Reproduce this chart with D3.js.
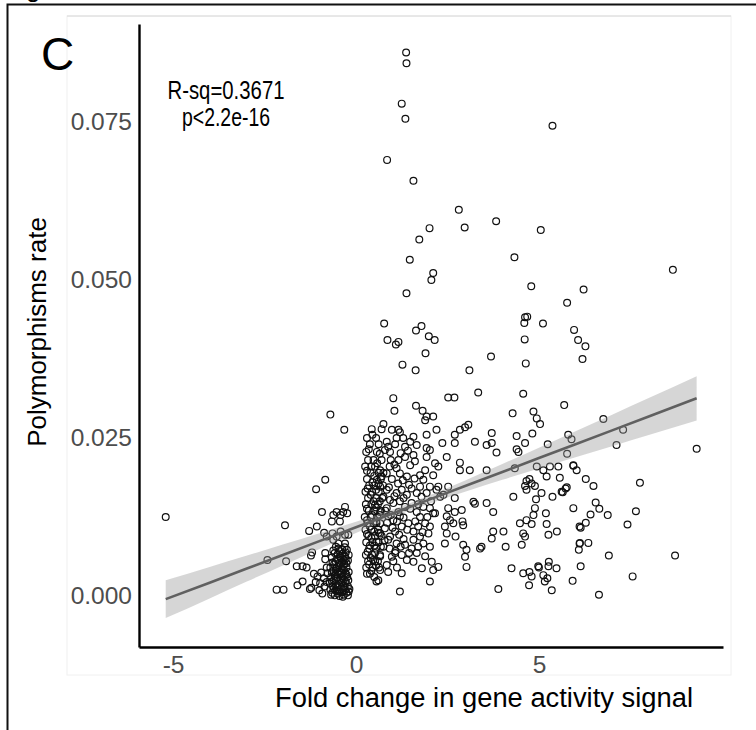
<!DOCTYPE html>
<html><head><meta charset="utf-8">
<script src="https://cdn.jsdelivr.net/npm/d3@7"></script>
<style>
html,body{margin:0;padding:0;background:#fff;}
svg{display:block;font-family:"Liberation Sans",Arial,Helvetica,sans-serif;}
</style></head>
<body>
<svg id="chart" width="756" height="730"></svg>
<script>
// ---- data ----
const xTicks = [-5, 0, 5];
const yTicks = [0, 0.025, 0.05, 0.075];
const xLabel = "Fold change in gene activity signal";
const yLabel = "Polymorphisms rate";
const statLines = ["R-sq=0.3671", "p<2.2e-16"];

// fitted lm line with 95% band (read at several x)
const fitX  = [-5.20, -4, -3, -2, -1, 0, 1, 1.5, 2, 3, 4, 5, 6, 7, 8, 9.31];
const fitY  = [-0.0005, 0.00211, 0.00430, 0.00649, 0.00868, 0.01087, 0.01306, 0.01416, 0.01525, 0.01744, 0.01963, 0.02182, 0.02401, 0.02620, 0.02839, 0.03128];
const fitLo = [-0.0035, -0.00038, 0.00224, 0.00484, 0.00743, 0.00998, 0.01242, 0.01356, 0.01461, 0.01655, 0.01838, 0.02017, 0.02195, 0.02371, 0.02547, 0.02778];
const fitHi = [0.0025, 0.00460, 0.00636, 0.00814, 0.00993, 0.01176, 0.01370, 0.01476, 0.01589, 0.01833, 0.02088, 0.02347, 0.02607, 0.02869, 0.03131, 0.03478];

// points: [fold change, polymorphism rate]
const pointsHigh = [
[1.37,0.0860],[1.38,0.0843],[1.25,0.0779],[1.35,0.0755],[5.37,0.0744],[0.85,0.0690],[1.57,0.0657],[2.81,0.0611],
[2.97,0.0583],[3.83,0.0593],[2.01,0.0582],[5.05,0.0579],[1.73,0.0564],[4.33,0.0536],[1.47,0.0532],[2.11,0.0511],
[2.06,0.0500],[1.38,0.0479],[4.79,0.0490],[6.22,0.0485],[5.77,0.0464],[0.77,0.0431],[0.86,0.0405],[1.09,0.0398],
[1.16,0.0402],[1.64,0.0420],[1.79,0.0427],[1.99,0.0411],[2.15,0.0405],[1.90,0.0384],[1.27,0.0366],[1.63,0.0357],
[3.10,0.0357],[3.69,0.0379],[4.62,0.0441],[4.68,0.0442],[4.60,0.0432],[5.11,0.0431],[4.61,0.0406],[4.64,0.0368],
[5.96,0.0421],[6.07,0.0405],[6.27,0.0395],[6.19,0.0375],[8.66,0.0516]
];
const pointsUpper = [
[1.02,0.0313],[1.05,0.0293],[2.52,0.0314],[2.69,0.0314],[3.34,0.0322],[4.57,0.0320],[5.69,0.0302],[1.64,0.0301],
[1.82,0.0293],[1.93,0.0284],[2.11,0.0284],[1.89,0.0278],[4.28,0.0289],[4.85,0.0292],[4.94,0.0281],[5.03,0.0272],
[-0.70,0.0287],[-0.32,0.0263],[0.43,0.0264],[0.70,0.0264],[0.75,0.0272],[0.98,0.0263],[1.16,0.0263],[1.20,0.0259],
[2.20,0.0263],[2.70,0.0255],[2.84,0.0263],[2.98,0.0267],[3.07,0.0271],[3.71,0.0258],[4.39,0.0253],[4.82,0.0257],
[5.80,0.0255],[5.89,0.0248],[6.76,0.0280],[7.30,0.0263],[7.12,0.0239],[5.77,0.0225],[9.31,0.0233]
];
const pointsLeft = [
[-5.20,0.0125],[-0.84,0.0184],[-1.09,0.0169],[-0.93,0.0133],[-1.94,0.0112],[-2.42,0.0057],[-1.91,0.0055],[-1.62,0.0047],
[-1.46,0.0047],[-1.35,0.0045],[-2.17,0.0010],[-1.98,0.0010],[-1.60,0.0017],[-1.46,0.0023],[-1.26,0.0011],[-1.28,0.0103],
[-1.07,0.0110],[-1.23,0.0064],[-1.20,0.0069],[-0.84,0.0068],[-0.87,0.0100],[-0.80,0.0094],[-0.62,0.0128],[-0.53,0.0133],
[-0.42,0.0128],[-0.30,0.0141],[-0.24,0.0131],[-0.35,0.0133],[-0.44,0.0118],[-0.66,0.0118],[-0.64,0.0099],[-0.53,0.0094],
[-0.42,0.0102],[-0.30,0.0097],[-0.21,0.0097],[-0.48,0.0083],[-0.30,0.0083],[-0.62,0.0089]
];
const clusterNeg = [
[-0.55,0.0078],[-0.31,0.0077],[-0.62,0.0072],[-0.45,0.0071],[-0.25,0.0073],[-0.50,0.0066],[-0.36,0.0067],[-0.20,0.0065],
[-0.66,0.0061],[-0.42,0.0060],[-0.28,0.0059],[-0.56,0.0055],[-0.38,0.0054],[-0.22,0.0056],[-0.60,0.0050],[-0.47,0.0049],
[-0.32,0.0051],[-0.70,0.0045],[-0.52,0.0046],[-0.40,0.0044],[-0.26,0.0045],[-0.62,0.0040],[-0.45,0.0039],[-0.33,0.0041],
[-0.20,0.0038],[-0.56,0.0035],[-0.42,0.0034],[-0.30,0.0036],[-0.68,0.0030],[-0.50,0.0029],[-0.38,0.0031],[-0.24,0.0030],
[-0.60,0.0025],[-0.46,0.0024],[-0.33,0.0026],[-0.21,0.0025],[-0.72,0.0020],[-0.55,0.0019],[-0.40,0.0021],[-0.28,0.0020],
[-0.63,0.0015],[-0.48,0.0014],[-0.35,0.0016],[-0.22,0.0015],[-0.70,0.0010],[-0.56,0.0009],[-0.42,0.0011],[-0.30,0.0010],
[-0.18,0.0011],[-0.65,0.0005],[-0.50,0.0004],[-0.38,0.0006],[-0.26,0.0005],[-0.58,0.0001],[-0.45,0.0000],[-0.33,0.0002],
[-0.22,0.0001],
[-0.48,0.0075],[-0.38,0.0074],[-0.58,0.0068],[-0.28,0.0069],[-0.44,0.0063],[-0.52,0.0058],[-0.30,0.0062],[-0.64,0.0053],
[-0.46,0.0052],[-0.26,0.0052],[-0.55,0.0043],[-0.36,0.0047],[-0.66,0.0037],[-0.50,0.0037],[-0.26,0.0034],[-0.37,0.0028],
[-0.55,0.0027],[-0.28,0.0023],[-0.66,0.0023],[-0.50,0.0017],[-0.32,0.0013],[-0.60,0.0012],[-0.44,0.0007],[-0.20,0.0007],
[-0.68,0.0002],[-0.36,-0.0001],[-0.52,0.0008],[-0.40,0.0036],[-0.34,0.0057],[-0.58,0.0032],
[-1.15,0.0035],[-1.05,0.0031],[-0.95,0.0037],[-1.10,0.0022],[-0.98,0.0020],[-0.88,0.0028],[-1.22,0.0013],[-1.00,0.0009],
[-0.86,0.0015],[-0.92,0.0004],[-0.80,0.0045],[-0.84,0.0058],[-0.78,0.0036],[-0.80,0.0022]
];
const clusterPos = [
[0.30,0.0250],[0.55,0.0250],[0.38,0.0240],[0.62,0.0240],[0.28,0.0228],[0.57,0.0228],[0.33,0.0215],[0.48,0.0215],
[0.70,0.0215],[0.52,0.0205],[0.25,0.0205],[0.40,0.0195],[0.62,0.0195],[0.30,0.0185],[0.57,0.0184],[0.68,0.0185],
[0.36,0.0175],[0.50,0.0175],[0.74,0.0175],[0.26,0.0165],[0.44,0.0165],[0.62,0.0165],[0.33,0.0155],[0.55,0.0155],
[0.72,0.0155],[0.27,0.0145],[0.42,0.0145],[0.60,0.0145],[0.35,0.0135],[0.50,0.0135],[0.68,0.0135],[0.24,0.0125],
[0.40,0.0125],[0.58,0.0125],[0.32,0.0115],[0.48,0.0115],[0.66,0.0115],[0.26,0.0105],[0.42,0.0105],[0.60,0.0105],
[0.34,0.0095],[0.52,0.0095],[0.70,0.0095],[0.28,0.0085],[0.45,0.0085],[0.62,0.0085],[0.36,0.0075],[0.55,0.0075],
[0.27,0.0065],[0.44,0.0065],[0.66,0.0065],[0.33,0.0055],[0.52,0.0055],[0.28,0.0045],[0.46,0.0045],[0.63,0.0045],
[0.38,0.0035],[0.56,0.0023],[0.61,0.0025],
[0.45,0.0255],[0.35,0.0232],[0.65,0.0225],[0.42,0.0205],[0.58,0.0210],[0.30,0.0198],[0.50,0.0190],[0.45,0.0180],
[0.62,0.0178],[0.32,0.0170],[0.55,0.0168],[0.40,0.0160],[0.65,0.0150],[0.48,0.0150],[0.30,0.0138],[0.55,0.0140],
[0.44,0.0128],[0.65,0.0128],[0.30,0.0120],[0.55,0.0118],[0.38,0.0110],[0.50,0.0102],[0.30,0.0098],[0.62,0.0100],
[0.42,0.0092],[0.38,0.0080],[0.50,0.0080],[0.68,0.0078],[0.32,0.0070],[0.52,0.0068],[0.40,0.0060],[0.60,0.0055],
[0.36,0.0050],[0.55,0.0048],[0.42,0.0040],[0.30,0.0035],[0.50,0.0030],
[0.79,0.0231],[0.84,0.0244],[0.88,0.0236],[0.93,0.0228],[1.07,0.0240],[1.11,0.0250],[1.29,0.0250],[1.34,0.0236],
[1.48,0.0244],[1.57,0.0252],[1.66,0.0239],[1.93,0.0255],[1.93,0.0234],[2.02,0.0231],[0.66,0.0199],[0.70,0.0189],
[0.84,0.0194],[1.11,0.0202],[1.20,0.0194],[1.16,0.0215],[1.34,0.0220],[1.39,0.0189],[1.48,0.0207],[1.57,0.0223],
[1.61,0.0213],[1.75,0.0191],[1.89,0.0199],[1.93,0.0220],[1.84,0.0184],[2.11,0.0191],[2.16,0.0210],[2.25,0.0205],
[2.02,0.0173],[1.75,0.0173],[0.84,0.0168],[0.66,0.0173],[0.75,0.0157],[0.93,0.0152],[1.11,0.0163],[1.25,0.0168],
[1.39,0.0160],[1.52,0.0170],[1.66,0.0163],[1.79,0.0157],[1.93,0.0163],[0.84,0.0139],[1.02,0.0147],[1.16,0.0133],
[1.34,0.0141],[1.52,0.0147],[1.66,0.0133],[1.84,0.0141],[2.02,0.0139],[2.11,0.0131],[0.66,0.0133],[0.52,0.0144],
[0.56,0.0115],[0.66,0.0099],[0.79,0.0107],[0.93,0.0094],[1.07,0.0102],[1.25,0.0110],[1.43,0.0115],[1.57,0.0102],
[1.70,0.0110],[1.89,0.0115],[1.98,0.0099],[1.75,0.0094],[1.57,0.0089],[0.56,0.0086],[0.75,0.0078],[0.88,0.0089],
[1.11,0.0083],[1.34,0.0081],[1.52,0.0075],[1.70,0.0078],[1.84,0.0083],[2.02,0.0078],[1.02,0.0120],[0.88,0.0126],
[1.20,0.0126],[2.02,0.0110],[0.47,0.0057],[0.66,0.0063],[0.84,0.0049],[1.02,0.0055],[1.25,0.0065],[1.39,0.0057],
[0.66,0.0041],[0.88,0.0038],[1.25,0.0036],[1.07,0.0068],[1.66,0.0068],[1.89,0.0063],
[0.95,0.0215],[1.05,0.0208],[1.22,0.0226],[1.42,0.0230],[0.98,0.0185],[1.15,0.0178],[1.28,0.0183],[1.45,0.0176],
[1.60,0.0186],[0.90,0.0172],[1.05,0.0158],[1.20,0.0150],[1.30,0.0155],[1.48,0.0138],[0.95,0.0128],[1.12,0.0118],
[1.30,0.0124],[1.40,0.0105],[0.85,0.0116],[1.00,0.0108],[1.18,0.0097],[1.30,0.0090],[0.92,0.0075],[1.08,0.0071],
[1.22,0.0078],[1.45,0.0068],[0.98,0.0062],[1.12,0.0045],[0.78,0.0088],[0.80,0.0135],[0.75,0.0195],[0.92,0.0205],
[1.70,0.0145],[1.75,0.0125],[1.95,0.0125],[2.05,0.0150],[1.62,0.0118],[1.82,0.0101]
];
const pointsRight = [
[3.25,0.0244],[3.57,0.0239],[3.71,0.0242],[3.84,0.0227],[4.39,0.0232],[4.44,0.0228],[4.62,0.0242],[5.24,0.0240],
[2.70,0.0242],[2.36,0.0242],[2.48,0.0220],[2.84,0.0211],[2.84,0.0199],[3.11,0.0199],[3.57,0.0199],[4.34,0.0202],
[4.94,0.0205],[5.12,0.0199],[5.30,0.0205],[5.53,0.0205],[5.21,0.0189],[5.94,0.0206],[5.57,0.0187],[4.66,0.0182],
[4.74,0.0185],[4.80,0.0178],[4.62,0.0174],[4.89,0.0174],[4.66,0.0168],[5.07,0.0163],[5.37,0.0157],[5.62,0.0165],
[5.76,0.0172],[4.30,0.0157],[4.92,0.0153],[4.89,0.0139],[4.85,0.0128],[4.48,0.0115],[4.66,0.0120],[4.80,0.0114],
[4.57,0.0099],[4.62,0.0094],[4.53,0.0081],[5.19,0.0131],[5.21,0.0114],[5.26,0.0097],[5.49,0.0102],[5.94,0.0139],
[6.11,0.0110],[6.11,0.0083],[4.25,0.0044],[4.57,0.0036],[4.74,0.0038],[4.80,0.0031],[4.98,0.0047],[5.12,0.0033],
[5.23,0.0028],[5.16,0.0023],[4.73,0.0017],[5.26,0.0047],[5.48,0.0044],[5.35,0.0009],[5.92,0.0024],[3.89,0.0011],
[3.57,0.0147],[3.21,0.0149],[3.25,0.0146],[3.75,0.0133],[2.70,0.0155],[2.89,0.0136],[2.91,0.0118],[2.93,0.0112],
[2.72,0.0094],[3.75,0.0102],[4.03,0.0102],[3.71,0.0091],[2.93,0.0081],[3.02,0.0073],[2.98,0.0062],[3.39,0.0075],
[3.43,0.0078],[3.02,0.0046],[4.09,0.0078],[2.48,0.0126],[2.57,0.0120],[2.66,0.0115],[2.43,0.0110],[2.48,0.0099],
[2.43,0.0083],[2.52,0.0139],[2.70,0.0133],[2.16,0.0131],[2.20,0.0168],[2.25,0.0173],[2.30,0.0157],[2.52,0.0173],
[2.39,0.0160],[2.02,0.0023],[1.20,0.0007],[2.11,0.0041],[2.25,0.0046],[2.07,0.0054],[1.80,0.0044],[1.57,0.0054],
[5.94,0.0207],[6.03,0.0199],[6.28,0.0185],[6.49,0.0174],[5.73,0.0170],[5.65,0.0164],[7.76,0.0179],[6.55,0.0148],
[6.65,0.0138],[6.41,0.0129],[6.88,0.0128],[7.65,0.0134],[7.42,0.0113],[6.14,0.0108],[6.28,0.0116],[6.12,0.0084],
[6.35,0.0084],[6.09,0.0073],[6.91,0.0064],[8.72,0.0064],[6.14,0.0047],[7.56,0.0031],[6.64,0.0002],[5.27,0.0054],
[5.00,0.0045]
];

// ---- drawing ----
const svg = d3.select("#chart");
const FONT = 24.5;

// outer figure frame and cut-off label
svg.append("text").attr("x", 26).attr("y", -3).attr("font-size", 26).attr("fill", "#000").text("g");
svg.append("rect").attr("x", 7.5).attr("y", 4.5).attr("width", 760).attr("height", 740)
  .attr("fill", "none").attr("stroke", "#111").attr("stroke-width", 2);

// plot background panel
svg.append("rect").attr("x", 67).attr("y", 16).attr("width", 664).attr("height", 659)
  .attr("fill", "#fff").attr("stroke", "#f0f0f0").attr("stroke-width", 1);
svg.append("line").attr("x1", 67).attr("x2", 731).attr("y1", 16).attr("y2", 16)
  .attr("stroke", "#d8d8d8").attr("stroke-width", 1);

const x = d3.scaleLinear().domain([-5.93, 10.03]).range([139, 723]);
const y = d3.scaleLinear().domain([-0.00807, 0.0905]).range([647, 24]);

// points
const allPoints = [].concat(pointsHigh, pointsUpper, pointsLeft, clusterNeg, clusterPos, pointsRight);
svg.append("g").selectAll("circle").data(allPoints).join("circle")
  .attr("cx", d => x(d[0])).attr("cy", d => y(d[1])).attr("r", 3.4)
  .attr("fill", "none").attr("stroke", "#111").attr("stroke-width", 1.2);

// confidence band + fit line
const band = fitX.map((v, i) => ({x: v, lo: fitLo[i], hi: fitHi[i], f: fitY[i]}));
svg.append("path").datum(band)
  .attr("d", d3.area().x(d => x(d.x)).y0(d => y(d.lo)).y1(d => y(d.hi)).curve(d3.curveMonotoneX))
  .attr("fill", "#999999").attr("fill-opacity", 0.4);
svg.append("path").datum(band)
  .attr("d", d3.line().x(d => x(d.x)).y(d => y(d.f)))
  .attr("fill", "none").attr("stroke", "#606060").attr("stroke-width", 2.6);

// axes
const gx = svg.append("g").attr("transform", "translate(0,647)")
  .call(d3.axisBottom(x).tickValues(xTicks).tickSize(0).tickSizeOuter(0).tickPadding(9).tickFormat(d3.format("d")));
const gy = svg.append("g").attr("transform", "translate(139,0)")
  .call(d3.axisLeft(y).tickValues(yTicks).tickSize(0).tickSizeOuter(0).tickPadding(7).tickFormat(d3.format(".3f")));
[gx, gy].forEach(g => {
  g.select(".domain").attr("stroke", "#000").attr("stroke-width", 2.4);
  g.selectAll("text").attr("font-size", FONT).attr("fill", "#4d4d4d")
    .attr("font-family", "'Liberation Sans',Arial,sans-serif");
});
gx.selectAll("text").text(d => d < 0 ? "-" + Math.abs(d) : d);

// titles
svg.append("text").attr("x", 484).attr("y", 707).attr("text-anchor", "middle")
  .attr("font-size", 27).attr("textLength", 418).attr("lengthAdjust", "spacingAndGlyphs")
  .attr("fill", "#000").text(xLabel);
svg.append("text").attr("transform", "translate(46,332) rotate(-90)").attr("text-anchor", "middle")
  .attr("font-size", 26).attr("fill", "#000").text(yLabel);

// panel tag
svg.append("text").attr("x", 41).attr("y", 70).attr("font-size", 46).attr("fill", "#000").text("C");

// statistics annotation
const statWidths = [117, 88];
svg.append("g").selectAll("text").data(statLines).join("text")
  .attr("x", 226).attr("y", (d, i) => 99 + i * 27).attr("text-anchor", "middle")
  .attr("font-size", 26).attr("textLength", (d, i) => statWidths[i]).attr("lengthAdjust", "spacingAndGlyphs")
  .attr("fill", "#000").text(d => d);
</script>
</body></html>
